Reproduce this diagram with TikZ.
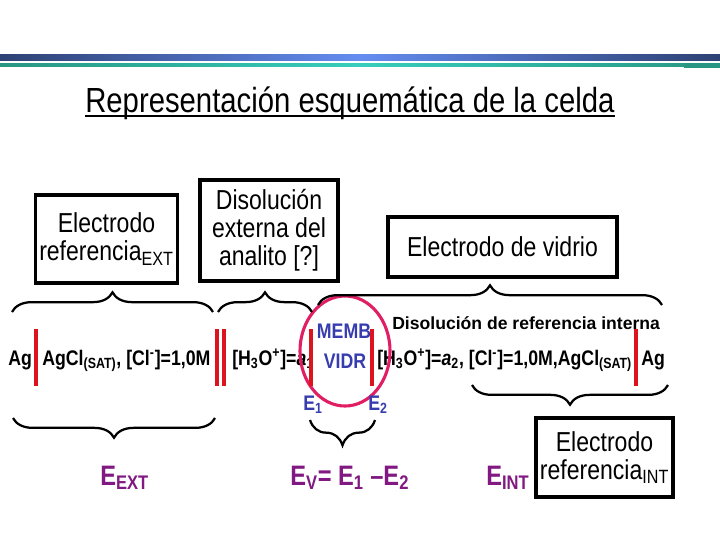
\documentclass[tikz,border=0pt]{standalone}
\usepackage{fontspec}
\setmainfont{Liberation Sans}[FakeStretch=0.84]
\newfontfamily\widesans{Liberation Sans}
\usetikzlibrary{positioning, shapes.geometric, decorations.pathreplacing}

\definecolor{barred}{RGB}{220,20,30}
\definecolor{ringred}{RGB}{225,30,100}
\definecolor{membblue}{RGB}{55,60,175}
\definecolor{potpurple}{RGB}{130,25,130}
\definecolor{bandnavy}{RGB}{45,65,115}
\definecolor{bandsky}{RGB}{100,140,240}
\definecolor{bandteal}{RGB}{40,150,130}
\definecolor{bandaqua}{RGB}{55,205,190}

\begin{document}
\begin{tikzpicture}[
    x=0.025cm, y=-0.025cm,
    box/.style={draw, line width=2.8pt, rectangle, align=center, inner sep=2pt, font=\fontsize{19.5}{20}\selectfont},
    eq/.style={anchor=base west, inner sep=0pt, font=\fontsize{15}{17}\selectfont\bfseries},
    memb/.style={inner sep=0pt, text=membblue, font=\fontsize{15}{17}\selectfont\bfseries},
    pot/.style={anchor=base west, inner sep=0pt, text=potpurple, font=\fontsize{20}{22}\selectfont\bfseries},
    bar/.style={barred, line width=2.2pt},
    brace/.style={decorate, decoration={brace, amplitude=14pt}, line width=1.6pt},
]
\useasboundingbox (0,0) rectangle (720,540);
\fill[white] (0,0) rectangle (720,540);

% Header bands
\shade[left color=bandnavy, right color=bandnavy, middle color=bandsky] (0,54) rectangle (720,60);
\shade[left color=bandteal, right color=bandteal, middle color=bandaqua] (0,63) rectangle (720,66);
\fill[bandteal] (684,63) rectangle (720,68);

% Title
\node[anchor=base west, inner sep=0pt, font=\fontsize{24.8}{26}\selectfont] (title) at (85,112) {Representación esquemática de la celda};
\draw[line width=1.5pt] ([yshift=-3pt]title.base west) -- ([yshift=-3pt]title.base east);

% Boxes
\node[box, minimum width=3.55cm, minimum height=2.2cm] (refext) at (106.5,239) {Electrodo\\referencia\textsubscript{EXT}};
\node[box, minimum width=3.45cm, minimum height=2.52cm] (analito) at (269,230.5) {Disolución\\externa del\\analito [?]};
\node[box, minimum width=5.72cm, minimum height=1.5cm] (vidrio) at (502.5,247) {Electrodo de vidrio};
\node[box, minimum width=3.42cm, minimum height=1.97cm] (refint) at (604.5,457.5) {Electrodo\\referencia\textsubscript{INT}};

% Cell line
\node[eq] (agL) at (8,365) {Ag};
\node[eq] (solL) at (42,365) {AgCl\textsubscript{(SAT)}, [Cl\textsuperscript{-}]=1,0M};
\node[eq] (solX) at (232,365) {[H\textsubscript{3}O\textsuperscript{+}]=\textit{a}\textsubscript{1}};
\node[eq] (solI) at (377,365) {[H\textsubscript{3}O\textsuperscript{+}]=\textit{a}\textsubscript{2}, [Cl\textsuperscript{-}]=1,0M,AgCl\textsubscript{(SAT)}};
\node[eq] (agR) at (641,365) {Ag};
\node[anchor=base west, inner sep=0pt, font=\widesans\fontsize{12.5}{14}\selectfont\bfseries] (intsol) at (392,329) {Disolución de referencia interna};

% Membrane
\node[memb] (memb) at (344,331) {MEMB};
\node[memb] (vidr) at (345,361) {VIDR};
\node[draw=ringred, line width=2.2pt, ellipse, minimum width=2.25cm, minimum height=2.75cm] (ring) at (345,351) {};
\node[memb, anchor=base west] (e1) at (303,410) {E\textsubscript{1}};
\node[memb, anchor=base west] (e2) at (368,410) {E\textsubscript{2}};

% Phase boundaries
\foreach \x in {36,217,224,311,372,636}
  \draw[bar] (\x,329) -- (\x,386);

% Braces
\draw[brace] (12,312) -- (213,312);
\draw[brace] (218,312) -- (312,312);
\draw[brace] (318,305) -- (662,305);
\draw[brace] (215,418) -- (13,418);
\draw[brace, decoration={amplitude=18pt}] (375,420) -- (310,420);
\draw[brace] (668,385) -- (472,385);

% Potentials
\node[pot] (eext) at (100,485) {E\textsubscript{EXT}};
\node[pot] (ev) at (290,485) {E\textsubscript{V}= E\textsubscript{1} –E\textsubscript{2}};
\node[pot] (eint) at (486,485) {E\textsubscript{INT}};

\end{tikzpicture}
\end{document}
